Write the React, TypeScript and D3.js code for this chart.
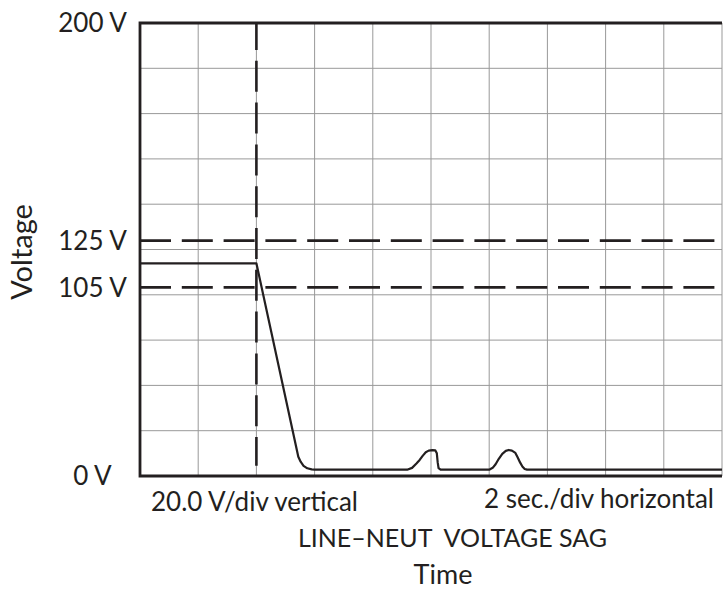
import React, { useRef, useEffect } from 'react'
import * as d3 from 'd3'

const width = 723
const height = 590
const margin = { left: 140, top: 23, right: 1, bottom: 114 }

// time in seconds, voltage read on the 20 V/div grid
const traceTime = [
  0, 4.0, 5.44, 5.52, 5.62, 5.75, 5.9, 6.0,
  9.18, 9.35, 9.5, 9.61, 9.72, 9.82, 9.92, 10.05, 10.15, 10.2, 10.23, 10.26, 10.33,
  12.0, 12.12, 12.22, 12.33, 12.45, 12.57, 12.67, 12.78, 12.9, 12.98, 13.06, 13.14, 13.22, 13.3,
  20
]
const traceVolts = [
  93.9, 93.9, 8.5, 6.3, 4.5, 3.4, 2.9, 2.8,
  2.8, 3.6, 5.5, 7.1, 9.0, 10.5, 11.2, 11.4, 11.3, 10.0, 6.0, 3.5, 2.8,
  2.8, 3.6, 5.2, 7.6, 9.8, 11.1, 11.5, 11.2, 10.2, 8.2, 6.0, 4.2, 3.1, 2.8,
  2.8
]

// dashed limit lines (position on the grid) and their labels
const limitLevels = [103.9, 83.3]
const levelLabels = ['200 V', '125 V', '105 V', '0 V']
const levelValues = [200, 103.9, 83.3, 0]

const eventTime = 4
const eventEnd = 4.5

const footLeft = '20.0 V/div vertical'
const footRight = '2 sec./div horizontal'
const title = 'LINE\u2013NEUT  VOLTAGE SAG'
const xTitle = 'Time'
const yTitle = 'Voltage'

const ink = '#231f20'
const font = 'Lato, "Open Sans", sans-serif'

const SagChart: React.FC = () => {
  const svgRef = useRef<SVGSVGElement>(null)

  useEffect(() => {
    if (!svgRef.current) return
    const svg = d3.select(svgRef.current)
    svg.selectAll('*').remove()

    const x = d3.scaleLinear().domain([0, 20]).range([margin.left, width - margin.right])
    const y = d3.scaleLinear().domain([0, 200]).range([height - margin.bottom, margin.top])

    const grid = svg.append('g').attr('stroke', '#999').attr('stroke-width', 1)
    grid.selectAll('line.v')
      .data(x.ticks(10).slice(1))
      .join('line')
      .attr('class', 'v')
      .attr('x1', d => x(d)).attr('x2', d => x(d))
      .attr('y1', y(200)).attr('y2', y(0))
    grid.selectAll('line.h')
      .data(y.ticks(10).slice(1, -1))
      .join('line')
      .attr('class', 'h')
      .attr('x1', x(0)).attr('x2', x(20))
      .attr('y1', d => y(d)).attr('y2', d => y(d))

    // limit lines
    svg.append('g')
      .selectAll('line')
      .data(limitLevels)
      .join('line')
      .attr('x1', x(0)).attr('x2', x(20))
      .attr('y1', d => y(d)).attr('y2', d => y(d))
      .attr('stroke', ink)
      .attr('stroke-width', 2.6)
      .attr('stroke-dasharray', '31 10.8')

    // event marker
    svg.append('line')
      .attr('x1', x(eventTime)).attr('x2', x(eventTime))
      .attr('y1', y(200)).attr('y2', y(eventEnd))
      .attr('stroke', ink)
      .attr('stroke-width', 2.6)
      .attr('stroke-dasharray', '31 10.8')
      .attr('stroke-dashoffset', 4)

    // frame: left, top, bottom
    svg.append('path')
      .attr('d', `M${x(20)},${y(200)}H${x(0)}V${y(0)}H${x(20)}`)
      .attr('fill', 'none')
      .attr('stroke', ink)
      .attr('stroke-width', 2.8)

    const line = d3.line<number>()
      .x((_, i) => x(traceTime[i]))
      .y(d => y(d))
      .curve(d3.curveLinear)

    svg.append('path')
      .datum(traceVolts)
      .attr('d', line)
      .attr('fill', 'none')
      .attr('stroke', ink)
      .attr('stroke-width', 2.2)
      .attr('stroke-linejoin', 'round')

    const text = svg.append('g')
      .attr('fill', ink)
      .attr('font-family', font)

    text.selectAll('text.lvl')
      .data(levelValues)
      .join('text')
      .attr('class', 'lvl')
      .attr('x', 92.5)
      .attr('y', d => y(d))
      .attr('dy', '0.36em')
      .attr('text-anchor', 'middle')
      .attr('font-size', 26)
      .text((_, i) => levelLabels[i])

    text.append('text')
      .attr('x', 151).attr('y', 511)
      .attr('font-size', 26)
      .text(footLeft)
    text.append('text')
      .attr('x', 714).attr('y', 508)
      .attr('text-anchor', 'end')
      .attr('font-size', 26)
      .text(footRight)
    text.append('text')
      .attr('x', 452.5).attr('y', 546.5)
      .attr('text-anchor', 'middle')
      .attr('font-size', 25)
      .style('white-space', 'pre')
      .text(title)
    text.append('text')
      .attr('x', 443).attr('y', 584)
      .attr('text-anchor', 'middle')
      .attr('font-size', 27)
      .text(xTitle)
    text.append('text')
      .attr('transform', 'translate(32,252) rotate(-90)')
      .attr('text-anchor', 'middle')
      .attr('font-size', 29)
      .text(yTitle)
  }, [])

  return (
    <svg
      ref={svgRef}
      width={width}
      height={height}
      style={{ position: 'absolute', left: 0, top: 0, background: '#fff' }}
    />
  )
}

export default function App() {
  return <SagChart />
}
